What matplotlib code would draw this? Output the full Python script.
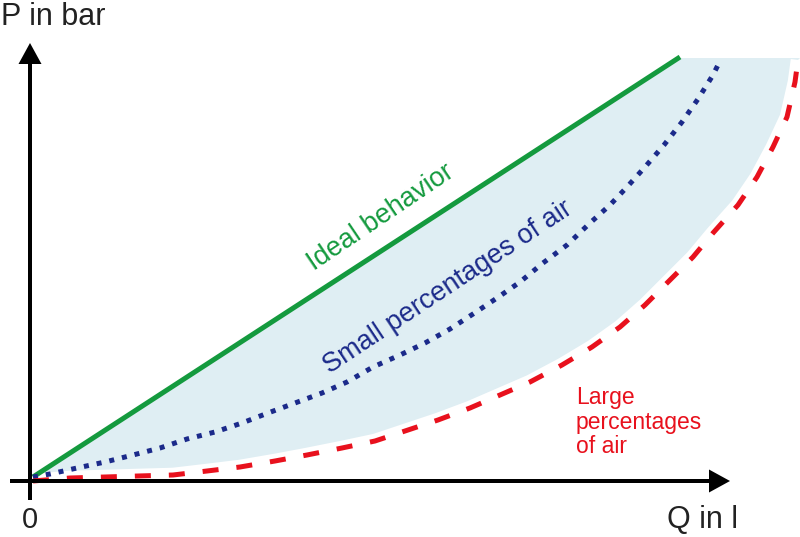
import matplotlib
matplotlib.use("Agg")
import matplotlib.pyplot as plt

# ---- data (Q, P in arbitrary units, origin at axes crossing) ----
ideal_q = [0.03, 6.50]
ideal_p = [0.04, 4.24]

small_q = [0.03, 0.20, 0.47, 0.75, 1.03, 1.30, 1.57, 1.85, 2.12, 2.38, 2.65, 2.92,
           3.17, 3.43, 3.70, 3.95, 4.20, 4.43, 4.67, 4.90, 5.13, 5.37, 5.60, 5.80,
           5.97, 6.15, 6.34, 6.52, 6.68, 6.83, 6.91]
small_p = [0.04, 0.07, 0.13, 0.19, 0.26, 0.33, 0.42, 0.49, 0.58, 0.68, 0.78, 0.88,
           0.99, 1.14, 1.26, 1.38, 1.52, 1.67, 1.83, 1.99, 2.18, 2.36, 2.58, 2.76,
           2.94, 3.14, 3.36, 3.59, 3.82, 4.06, 4.22]

large_q = [0.03, 0.40, 0.75, 1.08, 1.43, 1.77, 2.10, 2.45, 2.77, 3.12, 3.45, 3.75,
           4.08, 4.40, 4.70, 5.00, 5.32, 5.62, 5.90, 6.15, 6.40, 6.63, 6.83, 7.08,
           7.27, 7.43, 7.57, 7.65, 7.68]
large_p = [0.00, 0.03, 0.04, 0.05, 0.06, 0.10, 0.14, 0.20, 0.26, 0.33, 0.40, 0.50,
           0.61, 0.73, 0.86, 0.99, 1.16, 1.34, 1.54, 1.76, 2.01, 2.24, 2.48, 2.76,
           3.04, 3.34, 3.64, 3.99, 4.21]

top_p = 4.23
x_label = "Q in l"
y_label = "P in bar"
origin_label = "0"
ideal_label = "Ideal behavior"
small_label = "Small percentages of air"
large_label = "Large\npercentages\nof air"

GREEN = "#149a3e"
BLUE = "#1b2a8a"
RED = "#e8111d"
FILL = "#dfeef3"
FONT = "Liberation Sans"

fig = plt.figure(figsize=(8.0, 5.37), dpi=100)
ax = fig.add_axes([0, 0, 1, 1])
ax.set_xlim(-0.30, 7.70)
ax.set_ylim(-0.56, 4.81)
ax.axis("off")

# shaded band between ideal line and large-air curve
poly_q = list(ideal_q) + [large_q[-1] + 0.02] + list(large_q[::-1])
poly_p = [ideal_p[0], top_p] + [top_p] + list(large_p[::-1])
ax.fill(poly_q, poly_p, color=FILL, lw=0, zorder=1)
# white halo separating the band from the dashed curve
ax.plot(large_q, large_p, color="white", lw=10.5, solid_capstyle="butt",
        solid_joinstyle="round", zorder=1.5, clip_on=False)

# curves
ax.plot(ideal_q, ideal_p, color=GREEN, lw=3.6, solid_capstyle="butt", zorder=3)
ax.plot(small_q, small_p, color=BLUE, lw=3.6, linestyle=(0, (1, 1.6)),
        dash_capstyle="butt", zorder=3)
ax.plot(large_q, large_p, color=RED, lw=3.6, linestyle=(0, (3.2, 3.6)),
        dash_capstyle="butt", zorder=3, clip_on=False)

# axes arrows
ax.arrow(-0.20, 0.0, 7.20, 0.0, width=0.04, head_width=0.23, head_length=0.21,
         length_includes_head=True, color="black", lw=0, zorder=4)
ax.arrow(0.0, -0.19, 0.0, 4.57, width=0.04, head_width=0.23, head_length=0.21,
         length_includes_head=True, color="black", lw=0, zorder=4)

# axis labels
ax.text(-0.29, 4.56, y_label, fontsize=22, family=FONT, color="#222222",
        ha="left", va="baseline")
ax.text(6.37, -0.47, x_label, fontsize=22, family=FONT, color="#222222",
        ha="left", va="baseline")
ax.text(0.0, -0.47, origin_label, fontsize=21, family=FONT, color="#222222",
        ha="center", va="baseline")

# curve labels
ax.text(3.51, 2.64, ideal_label, fontsize=19.5, family=FONT, color=GREEN,
        rotation=34, rotation_mode="anchor", ha="center", va="center")
ax.text(4.18, 1.94, small_label, fontsize=19.5, family=FONT, color=BLUE,
        rotation=33.5, rotation_mode="anchor", ha="center", va="center")
ax.text(5.46, 0.59, large_label, fontsize=16.5, family=FONT, color=RED,
        ha="left", va="center", linespacing=1.1)

fig.savefig("out.png", dpi=100)
